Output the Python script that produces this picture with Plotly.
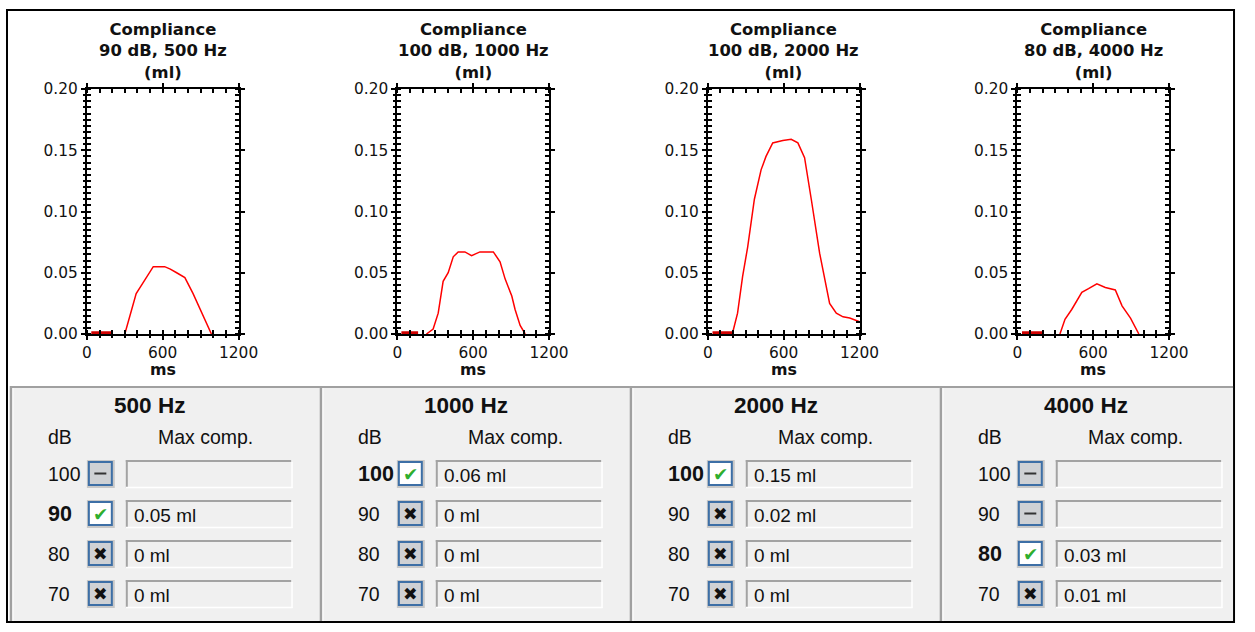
import plotly.graph_objects as go

W, H = 1255, 632
# The photographed picture is the page slightly shrunk and offset; positions below
# are given in picture pixels and converted to page/paper coordinates.
SX, OXI = 0.9817, 5.0
SY, OYI = 0.9715, 9.0


def px(x):
    v = (x - OXI) / SX / W
    return min(max(v, 0.0), 1.0)


def py(y):
    v = 1 - (y - OYI) / SY / H
    return min(max(v, 0.0), 1.0)


FS = 1.025  # font compensation for the shrink

# ---------------- chart data ----------------
chart_freqs = [500, 1000, 2000, 4000]
chart_levels = [90, 100, 100, 80]

# initial thick baseline segments (ms, ml)
pre_time_500 = [35, 205]
pre_comp_500 = [0.001, 0.001]
pre_time_1000 = [32, 164]
pre_comp_1000 = [0.001, 0.001]
pre_time_2000 = [37, 196]
pre_comp_2000 = [0.001, 0.001]
pre_time_4000 = [37, 204]
pre_comp_4000 = [0.001, 0.001]

# compliance curves (ms, ml)
time_500 = [300, 340, 390, 445, 525, 615, 660, 710, 775, 840, 890, 935, 985]
comp_500 = [0.000, 0.014, 0.033, 0.042, 0.055, 0.055, 0.053, 0.050, 0.046, 0.033, 0.022, 0.011, 0.000]

time_1000 = [230, 283, 323, 362, 402, 442, 481, 534, 587, 653, 759, 812, 852, 905, 931, 971, 1011]
comp_1000 = [0.000, 0.004, 0.017, 0.043, 0.050, 0.063, 0.067, 0.067, 0.064, 0.067, 0.067, 0.059,
             0.045, 0.031, 0.020, 0.007, 0.000]

time_2000 = [196, 235, 275, 315, 368, 421, 460, 513, 593, 659, 712, 765, 818, 884, 963, 1016, 1069, 1122, 1200]
comp_2000 = [0.001, 0.017, 0.047, 0.071, 0.110, 0.134, 0.145, 0.156, 0.158, 0.159, 0.156, 0.144,
             0.110, 0.066, 0.025, 0.017, 0.014, 0.013, 0.010]

time_4000 = [337, 377, 430, 470, 510, 563, 629, 696, 775, 828, 895, 961]
comp_4000 = [0.000, 0.012, 0.020, 0.027, 0.034, 0.037, 0.041, 0.038, 0.036, 0.023, 0.013, 0.000]

x_range = [0, 1200]
y_range = [0, 0.2]
x_major = 600
x_minor = 100
y_major = 0.05
y_minor = 0.005

# ---------------- panel data ----------------
panel_labels = ["500 Hz", "1000 Hz", "2000 Hz", "4000 Hz"]
db_levels = [100, 90, 80, 70]
status_500 = ["none", "pass", "fail", "fail"]
status_1000 = ["pass", "fail", "fail", "fail"]
status_2000 = ["pass", "fail", "fail", "fail"]
status_4000 = ["none", "none", "pass", "fail"]
maxcomp_500 = ["", "0.05 ml", "0 ml", "0 ml"]
maxcomp_1000 = ["0.06 ml", "0 ml", "0 ml", "0 ml"]
maxcomp_2000 = ["0.15 ml", "0.02 ml", "0 ml", "0 ml"]
maxcomp_4000 = ["", "", "0.03 ml", "0.01 ml"]

pre_times = [pre_time_500, pre_time_1000, pre_time_2000, pre_time_4000]
pre_comps = [pre_comp_500, pre_comp_1000, pre_comp_2000, pre_comp_4000]
times = [time_500, time_1000, time_2000, time_4000]
comps = [comp_500, comp_1000, comp_2000, comp_4000]
statuses = [status_500, status_1000, status_2000, status_4000]
maxcomps = [maxcomp_500, maxcomp_1000, maxcomp_2000, maxcomp_4000]

# ---------------- figure ----------------
fig = go.Figure()
shapes = []
annotations = []
layout_axes = {}

plot_left = [87, 398, 709, 1019]
plot_w = 152
plot_top, plot_bottom = 89, 334

TICKFONT = dict(family="DejaVu Sans", size=15 * FS, color="#111111")

# outer frame
shapes.append(dict(type="rect", xref="paper", yref="paper", x0=px(7), x1=min(px(1252), 1 - 1.0 / W),
                   y0=max(py(629), 1.0 / H), y1=min(py(5), 1 - 1.0 / H),
                   line=dict(color="black", width=2), fillcolor="white", layer="below"))

for i in range(4):
    n = "" if i == 0 else str(i + 1)
    on = str(i + 5)
    xa, ya = "x" + n, "y" + n
    fig.add_trace(go.Scatter(x=times[i], y=comps[i], mode="lines",
                             line=dict(color="#ff0000", width=1.5),
                             xaxis=xa, yaxis=ya, hoverinfo="skip", showlegend=False))
    fig.add_trace(go.Scatter(x=pre_times[i], y=pre_comps[i], mode="lines",
                             line=dict(color="#d00000", width=3),
                             xaxis=xa, yaxis=ya, hoverinfo="skip", showlegend=False))
    # empty traces so the overlay tick axes are drawn
    fig.add_trace(go.Scatter(x=[None], y=[None], mode="lines", xaxis="x" + on, yaxis=ya,
                             hoverinfo="skip", showlegend=False))
    fig.add_trace(go.Scatter(x=[None], y=[None], mode="lines", xaxis=xa, yaxis="y" + on,
                             hoverinfo="skip", showlegend=False))
    l = plot_left[i]
    xdom = [px(l), px(l + plot_w)]
    ydom = [py(plot_bottom), py(plot_top)]
    layout_axes["xaxis" + n] = dict(
        domain=xdom, range=x_range, anchor=ya,
        tickmode="linear", tick0=0, dtick=x_major,
        ticks="outside", ticklen=4, tickwidth=1.5, tickcolor="black",
        showline=True, linecolor="black", linewidth=2, mirror="ticks",
        showgrid=False, zeroline=False, fixedrange=True,
        minor=dict(tickmode="linear", tick0=0, dtick=x_minor, ticks="inside",
                   ticklen=4, tickwidth=1.5, tickcolor="black", showgrid=False),
        tickfont=TICKFONT,
    )
    layout_axes["yaxis" + n] = dict(
        domain=ydom, range=y_range, anchor=xa,
        tickmode="linear", tick0=0, dtick=y_major, tickformat=".2f",
        ticks="outside", ticklen=4, tickwidth=1.5, tickcolor="black",
        showline=True, linecolor="black", linewidth=2, mirror="ticks",
        showgrid=False, zeroline=False, fixedrange=True,
        minor=dict(tickmode="linear", tick0=0, dtick=y_minor, ticks="inside",
                   ticklen=4, tickwidth=1.5, tickcolor="black", showgrid=False),
        tickfont=TICKFONT,
    )
    # overlay axes carrying the outward half of the crossing minor ticks
    layout_axes["xaxis" + on] = dict(
        domain=xdom, range=x_range, anchor=ya, overlaying=xa, side="bottom",
        tickmode="linear", tick0=0, dtick=x_minor, ticks="outside", ticklen=3,
        tickwidth=1.5, tickcolor="black", showticklabels=False,
        showline=False, showgrid=False, zeroline=False, fixedrange=True,
    )
    layout_axes["yaxis" + on] = dict(
        domain=ydom, range=y_range, anchor=xa, overlaying=ya, side="left",
        tickmode="linear", tick0=0, dtick=y_minor, ticks="outside", ticklen=3,
        tickwidth=1.5, tickcolor="black", showticklabels=False,
        showline=False, showgrid=False, zeroline=False, fixedrange=True,
    )
    cx = l + plot_w / 2
    annotations.append(dict(
        xref="paper", yref="paper", x=px(cx), y=py(51), xanchor="center", yanchor="middle",
        text=f"Compliance<br>{chart_levels[i]} dB, {chart_freqs[i]} Hz<br>(ml)",
        showarrow=False, font=dict(family="DejaVu Sans", size=16 * FS, color="#111111", weight="bold")))
    annotations.append(dict(
        xref="paper", yref="paper", x=px(cx), y=py(369), xanchor="center", yanchor="middle",
        text="ms", showarrow=False,
        font=dict(family="DejaVu Sans", size=15.5 * FS, color="#111111", weight="bold")))

# ---------------- bottom panels ----------------
PANEL_TOP, PANEL_BOTTOM = 386, 627
PANEL_STEP = 310.5
PANEL_X0 = 10
PANEL_FONT = "Liberation Sans"
for p in range(4):
    x0 = PANEL_X0 + p * PANEL_STEP
    x1 = x0 + PANEL_STEP
    shapes.append(dict(type="rect", xref="paper", yref="paper", x0=px(x0), x1=min(px(x1), 1 - 2.0 / W),
                       y0=max(py(PANEL_BOTTOM), 2.0 / H), y1=py(PANEL_TOP), fillcolor="#f0f0f0",
                       line=dict(width=0), layer="below"))
    shapes.append(dict(type="line", xref="paper", yref="paper", x0=px(x0), x1=min(px(x1), 1 - 2.0 / W),
                       y0=py(PANEL_TOP + 1), y1=py(PANEL_TOP + 1), line=dict(color="#a0a0a0", width=2)))
    shapes.append(dict(type="line", xref="paper", yref="paper", x0=px(x0 + 1), x1=px(x0 + 1),
                       y0=py(PANEL_TOP), y1=max(py(PANEL_BOTTOM), 2.0 / H),
                       line=dict(color="#a0a0a0", width=2.5)))
    shapes.append(dict(type="line", xref="paper", yref="paper", x0=px(x0 + 3), x1=px(x0 + 3),
                       y0=py(PANEL_TOP + 2), y1=max(py(PANEL_BOTTOM), 2.0 / H),
                       line=dict(color="#ffffff", width=1)))

    annotations.append(dict(xref="paper", yref="paper", x=px(x0 + 102), y=py(405),
                            xanchor="left", yanchor="middle", text=panel_labels[p], showarrow=False,
                            font=dict(family=PANEL_FONT, size=22 * FS, color="#111111", weight="bold")))
    annotations.append(dict(xref="paper", yref="paper", x=px(x0 + 36), y=py(437),
                            xanchor="left", yanchor="middle", text="dB", showarrow=False,
                            font=dict(family=PANEL_FONT, size=19 * FS, color="#111111")))
    annotations.append(dict(xref="paper", yref="paper", x=px(x0 + 146), y=py(437),
                            xanchor="left", yanchor="middle", text="Max comp.", showarrow=False,
                            font=dict(family=PANEL_FONT, size=19 * FS, color="#111111")))

    for r, lev in enumerate(db_levels):
        cy = 474 + 40 * r
        st = statuses[p][r]
        bold = st == "pass"
        annotations.append(dict(xref="paper", yref="paper", x=px(x0 + 36), y=py(cy),
                                xanchor="left", yanchor="middle", text=str(lev), showarrow=False,
                                font=dict(family=PANEL_FONT, size=(21 if bold else 19) * FS, color="#111111",
                                          weight="bold" if bold else "normal")))
        # checkbox
        bx0, bx1 = x0 + 79, x0 + 102
        shapes.append(dict(type="rect", xref="paper", yref="paper", x0=px(bx0 - 2), x1=px(bx1 + 3),
                           y0=py(cy + 14), y1=py(cy - 14), fillcolor="#c8c8c8", line=dict(width=0)))
        shapes.append(dict(type="rect", xref="paper", yref="paper", x0=px(bx0), x1=px(bx1),
                           y0=py(cy + 11), y1=py(cy - 12),
                           fillcolor="#ffffff" if st == "pass" else "#cfd1d4",
                           line=dict(color="#3d6fa6", width=2)))
        bcx = (bx0 + bx1) / 2
        if st == "none":
            shapes.append(dict(type="line", xref="paper", yref="paper", x0=px(bcx - 6), x1=px(bcx + 6),
                               y0=py(cy - 0.5), y1=py(cy - 0.5), line=dict(color="#333333", width=2)))
        elif st == "pass":
            annotations.append(dict(xref="paper", yref="paper", x=px(bcx), y=py(cy),
                                    xanchor="center", yanchor="middle", text="✔", showarrow=False,
                                    font=dict(family="DejaVu Sans", size=18 * FS, color="#2fae2f")))
        else:
            annotations.append(dict(xref="paper", yref="paper", x=px(bcx), y=py(cy),
                                    xanchor="center", yanchor="middle", text="✖", showarrow=False,
                                    font=dict(family="DejaVu Sans", size=17 * FS, color="#111111")))
        # text box
        tx0, tx1 = x0 + 116, x0 + 283
        shapes.append(dict(type="rect", xref="paper", yref="paper", x0=px(tx0), x1=px(tx1),
                           y0=py(cy + 14), y1=py(cy - 14), fillcolor="#f0f0f0", line=dict(width=0)))
        shapes.append(dict(type="line", xref="paper", yref="paper", x0=px(tx0), x1=px(tx1),
                           y0=py(cy - 13), y1=py(cy - 13), line=dict(color="#a3a3a3", width=2)))
        shapes.append(dict(type="line", xref="paper", yref="paper", x0=px(tx0 + 1), x1=px(tx0 + 1),
                           y0=py(cy - 14), y1=py(cy + 14), line=dict(color="#a3a3a3", width=2)))
        shapes.append(dict(type="line", xref="paper", yref="paper", x0=px(tx0), x1=px(tx1),
                           y0=py(cy + 13.5), y1=py(cy + 13.5), line=dict(color="#ffffff", width=1.5)))
        shapes.append(dict(type="line", xref="paper", yref="paper", x0=px(tx1 - 0.5), x1=px(tx1 - 0.5),
                           y0=py(cy - 14), y1=py(cy + 14), line=dict(color="#ffffff", width=1.5)))
        if maxcomps[p][r]:
            annotations.append(dict(xref="paper", yref="paper", x=px(tx0 + 6), y=py(cy + 1),
                                    xanchor="left", yanchor="middle", text=maxcomps[p][r], showarrow=False,
                                    font=dict(family=PANEL_FONT, size=18.5 * FS, color="#111111")))

fig.update_layout(
    width=W, height=H, margin=dict(l=0, r=0, t=0, b=0),
    paper_bgcolor="white", plot_bgcolor="white",
    shapes=shapes, annotations=annotations, showlegend=False,
    **layout_axes,
)

fig.write_html("out.html", config={"displayModeBar": False},
               post_script="document.body.style.margin='0';document.body.style.overflow='hidden';")
